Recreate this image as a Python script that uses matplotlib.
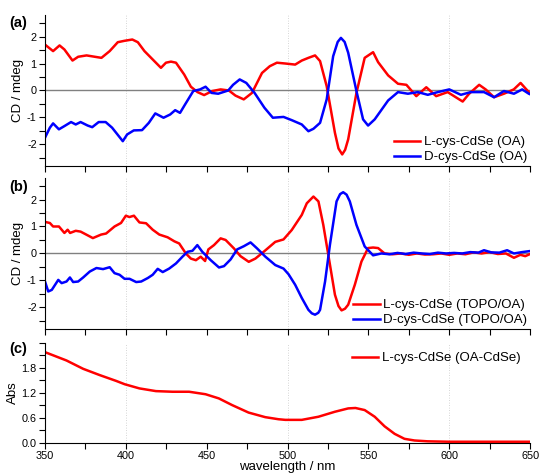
import matplotlib
matplotlib.use('Agg')
import matplotlib.pyplot as plt
from matplotlib.ticker import MultipleLocator, FormatStrFormatter

plt.rcParams['font.family'] = ['Liberation Sans', 'DejaVu Sans']
plt.rcParams['axes.unicode_minus'] = False

# (a) CD of cys-CdSe (OA)
wl_a_L = [350, 355, 359, 362, 367, 370.5, 375.7, 380.8, 384.9, 390, 395, 399, 404, 407.4,
          411.5, 416.6, 421.7, 424.8, 427.9, 431, 436.1, 440.2, 444.3, 448.4, 453.5, 458.6,
          463.7, 467.8, 472.9, 478, 484.2, 489, 493.4, 498.6, 504.7, 508.8, 512.9, 517,
          520.1, 524.2, 529.3, 531.5, 533.8, 535.6, 537.5, 542.6, 547.7, 552.9, 556, 562.2,
          568.3, 573.5, 579.6, 585.8, 591.9, 599, 608.3, 612.3, 618.5, 622.5, 627.7, 633.8,
          639.9, 644.1, 649.2, 650]
cd_a_L = [1.70, 1.46, 1.67, 1.52, 1.11, 1.25, 1.30, 1.25, 1.21, 1.46, 1.79, 1.84, 1.89, 1.79,
          1.46, 1.15, 0.84, 1.03, 1.07, 1.03, 0.59, 0.14, -0.06, -0.17, -0.02, 0.04,
          0.0, -0.19, -0.33, -0.09, 0.65, 0.90, 1.03, 1.00, 0.96, 1.11, 1.21, 1.30,
          1.09, 0.16, -1.57, -2.15, -2.37, -2.2, -1.81, -0.09, 1.21, 1.42, 1.05, 0.56,
          0.25, 0.21, -0.21, 0.12, -0.21, -0.06, -0.41, -0.12, 0.21, 0.04, -0.25, -0.12,
          0.04, 0.28, -0.06, -0.10]

wl_a_D = [350, 353, 355, 358.6, 362, 366.1, 369, 372, 376.4, 379.2, 383.2, 387.5, 391.5,
          395.6, 398.1, 400.8, 404.9, 410, 414.2, 418.2, 423.3, 427.4, 430.5, 433.5, 436.6,
          441.7, 445.9, 449.3, 453, 457.1, 463.3, 466.3, 470.4, 474.5, 479.6, 485.7, 490.9,
          497.5, 502.6, 508.8, 512.9, 516, 520.1, 524.2, 528.2, 531, 533, 535.3, 537.5,
          542.6, 546.7, 549.8, 553.9, 559, 562.2, 568.3, 574.4, 580.6, 586.7, 592.9, 600,
          607.2, 613.3, 621.5, 627.7, 633.8, 640, 645.1, 649.2, 650]
cd_a_D = [-1.75, -1.38, -1.22, -1.44, -1.32, -1.17, -1.26, -1.17, -1.30, -1.36, -1.17, -1.17, -1.38,
          -1.69, -1.88, -1.63, -1.48, -1.47, -1.20, -0.85, -1.01, -0.89, -0.73, -0.83, -0.52,
          -0.02, 0.04, 0.14, -0.09, -0.12, 0.0, 0.21, 0.41, 0.28, -0.09, -0.64, -1.01,
          -0.98, -1.10, -1.26, -1.51, -1.42, -1.20, -0.33, 1.27, 1.80, 1.95, 1.80, 1.40,
          -0.02, -1.07, -1.30, -1.07, -0.64, -0.37, -0.06, -0.12, -0.06, -0.16, -0.06, 0.04,
          -0.16, -0.06, -0.06, -0.25, -0.02, -0.12, 0.04, -0.12, -0.14]

# (b) CD of cys-CdSe (TOPO/OA)
wl_b_L = [350, 353, 355, 358.6, 362, 364, 365.5, 369, 372, 375.5, 379.6, 384.7, 387.8, 393,
          397, 400, 402.2, 405, 408.4, 412.5, 416.6, 420.7, 425.8, 430, 433, 437.1, 440.2,
          443.3, 446.3, 449, 451, 454.5, 458.6, 461.7, 466.8, 470.9, 476, 480.1, 485.2,
          492.4, 497.5, 502.6, 504.7, 508.8, 511.9, 516, 519.1, 522.1, 525.2, 529.3, 531.5,
          533.4, 535.5, 537.5, 541.6, 545.7, 549.8, 552.9, 556, 560, 565, 570, 575, 580,
          585, 590, 595, 600, 605, 610, 615, 620, 625, 630, 635, 640, 644, 647, 650]
cd_b_L = [1.17, 1.13, 1.00, 1.00, 0.76, 0.88, 0.76, 0.84, 0.81, 0.70, 0.57, 0.70, 0.74, 1.00,
          1.13, 1.40, 1.35, 1.40, 1.15, 1.12, 0.88, 0.70, 0.60, 0.45, 0.37, 0.0, -0.19,
          -0.25, -0.12, -0.28, 0.15, 0.31, 0.56, 0.50, 0.19, -0.10, -0.31, -0.19, 0.06,
          0.43, 0.52, 0.87, 1.06, 1.43, 1.86, 2.11, 1.93, 1.06, -0.05, -1.53, -1.95,
          -2.11, -2.05, -1.90, -1.16, -0.30, 0.20, 0.22, 0.20, 0.0, -0.03, 0.0, -0.05, 0.0,
          -0.04, -0.03, 0.0, -0.05, 0.0, -0.03, 0.04, 0.0, 0.05, -0.02, 0.0, -0.16, -0.05, -0.10, -0.02]

wl_b_D = [350, 352, 354.2, 358.2, 360.3, 363.3, 365.4, 367.4, 370.5, 373.6, 377.7, 381.8,
          385.9, 390, 393, 396.1, 399.2, 402.3, 406.4, 409.5, 413.6, 416.6, 419.7, 422.8,
          426.8, 431, 435, 438.1, 441.2, 444.2, 447.3, 452.5, 457.6, 460.7, 464.8, 468.8,
          473, 477.1, 481.1, 486.3, 492.4, 497.5, 500.6, 504.7, 508.8, 512.9, 515, 517,
          519, 520.1, 523.2, 526.2, 530.3, 532.5, 534.4, 536.5, 538.5, 542.6, 547.7, 552.9,
          558, 563, 568, 573, 578, 583, 588, 593, 598, 603, 608, 613, 618, 621.5, 626, 631,
          635.8, 640, 645, 650]
cd_b_D = [-1.04, -1.41, -1.35, -0.98, -1.10, -1.04, -0.89, -1.06, -1.04, -0.89, -0.67, -0.54,
          -0.58, -0.51, -0.73, -0.79, -0.94, -0.94, -1.06, -1.04, -0.91, -0.79, -0.57, -0.69,
          -0.56, -0.37, -0.12, 0.06, 0.10, 0.31, 0.06, -0.25, -0.52, -0.47, -0.22, 0.15,
          0.27, 0.41, 0.19, -0.12, -0.43, -0.56, -0.77, -1.16, -1.65, -2.09, -2.22, -2.27,
          -2.2, -2.09, -1.04, 0.32, 1.93, 2.2, 2.27, 2.18, 1.93, 1.06, 0.26, -0.07,
          0.0, -0.03, 0.02, -0.02, 0.03, 0.0, -0.02, 0.03, 0.0, 0.02, 0.0, 0.05, 0.03, 0.12, 0.04, 0.03,
          0.12, 0.0, 0.05, 0.09]

# (c) absorbance
wl_c = [350, 363.3, 373.6, 383.8, 394, 399.3, 408.4, 418.6, 428.8, 439.1, 449.3, 457.5, 465.7,
        475.9, 486.2, 494.4, 498.6, 508.8, 519.1, 529.3, 537.5, 542, 547.7, 553.9, 560, 566.2,
        572.3, 578.5, 586.7, 600, 650]
abs_c = [2.18, 1.98, 1.78, 1.63, 1.49, 1.41, 1.31, 1.245, 1.23, 1.23, 1.17, 1.07, 0.91,
         0.73, 0.62, 0.57, 0.555, 0.555, 0.63, 0.75, 0.83, 0.84, 0.79, 0.63, 0.40, 0.22,
         0.10, 0.06, 0.04, 0.03, 0.03]
abs_ticks = [0.0, 0.6, 1.2, 1.8]

fig = plt.figure(figsize=(5.39, 4.75), dpi=100)
ax_a = fig.add_axes([0.0835, 0.6505, 0.9, 0.318])
ax_b = fig.add_axes([0.0835, 0.3074, 0.9, 0.318])
ax_c = fig.add_axes([0.0835, 0.0674, 0.9, 0.2105])

red = '#ff0000'
blue = '#0000ff'
lw = 1.8

for ax in [ax_a, ax_b, ax_c]:
    ax.set_xlim(350, 650)
    ax.spines['top'].set_visible(False)
    ax.spines['right'].set_visible(False)
    ax.xaxis.set_major_locator(MultipleLocator(50))
    ax.xaxis.set_minor_locator(MultipleLocator(25))
    ax.tick_params(which='both', direction='out', length=4, width=0.8, labelsize=7.8, pad=2)
    for g in [400, 500, 600]:
        ax.axvline(g, color='#c8c8c8', lw=0.6, ls=(0, (1, 2)), zorder=0)

for ax in [ax_a, ax_b]:
    ax.set_ylim(-2.8, 2.8)
    ax.yaxis.set_major_locator(MultipleLocator(1))
    ax.yaxis.set_minor_locator(MultipleLocator(0.5))
    ax.axhline(0, color='#808080', lw=1.0, zorder=1)
    ax.tick_params(axis='x', labelbottom=False)
    ax.set_ylabel('CD / mdeg', fontsize=9.5, labelpad=2)

ax_a.plot(wl_a_L, cd_a_L, color=red, lw=lw, label='L-cys-CdSe (OA)')
ax_a.plot(wl_a_D, cd_a_D, color=blue, lw=lw, label='D-cys-CdSe (OA)')
ax_a.legend(loc='lower right', frameon=False, fontsize=9.5, handlelength=2.0,
            handletextpad=0.3, borderaxespad=0.1, borderpad=0.1, labelspacing=0.2)

ax_b.plot(wl_b_L, cd_b_L, color=red, lw=lw, label='L-cys-CdSe (TOPO/OA)')
ax_b.plot(wl_b_D, cd_b_D, color=blue, lw=lw, label='D-cys-CdSe (TOPO/OA)')
ax_b.legend(loc='lower right', frameon=False, fontsize=9.5, handlelength=2.0,
            handletextpad=0.3, borderaxespad=0.1, borderpad=0.1, labelspacing=0.2)

ax_c.plot(wl_c, abs_c, color=red, lw=lw, label='L-cys-CdSe (OA-CdSe)')
ax_c.set_ylim(0, 2.4)
ax_c.set_yticks(abs_ticks)
ax_c.yaxis.set_minor_locator(MultipleLocator(0.3))
ax_c.yaxis.set_major_formatter(FormatStrFormatter('%.1f'))
ax_c.set_ylabel('Abs', fontsize=9.5, labelpad=2)
ax_c.set_xlabel('wavelength / nm', fontsize=9.5, labelpad=0)
ax_c.legend(loc='upper right', frameon=False, fontsize=9.5, handlelength=2.0,
            handletextpad=0.3, borderaxespad=0.6, borderpad=0.1)

fig.text(0.017, 1 - 23 / 475, '(a)', fontsize=10.5, fontweight='bold', va='center')
fig.text(0.017, 1 - 187 / 475, '(b)', fontsize=10.5, fontweight='bold', va='center')
fig.text(0.017, 1 - 349 / 475, '(c)', fontsize=10.5, fontweight='bold', va='center')

fig.savefig('out.png', dpi=100)
